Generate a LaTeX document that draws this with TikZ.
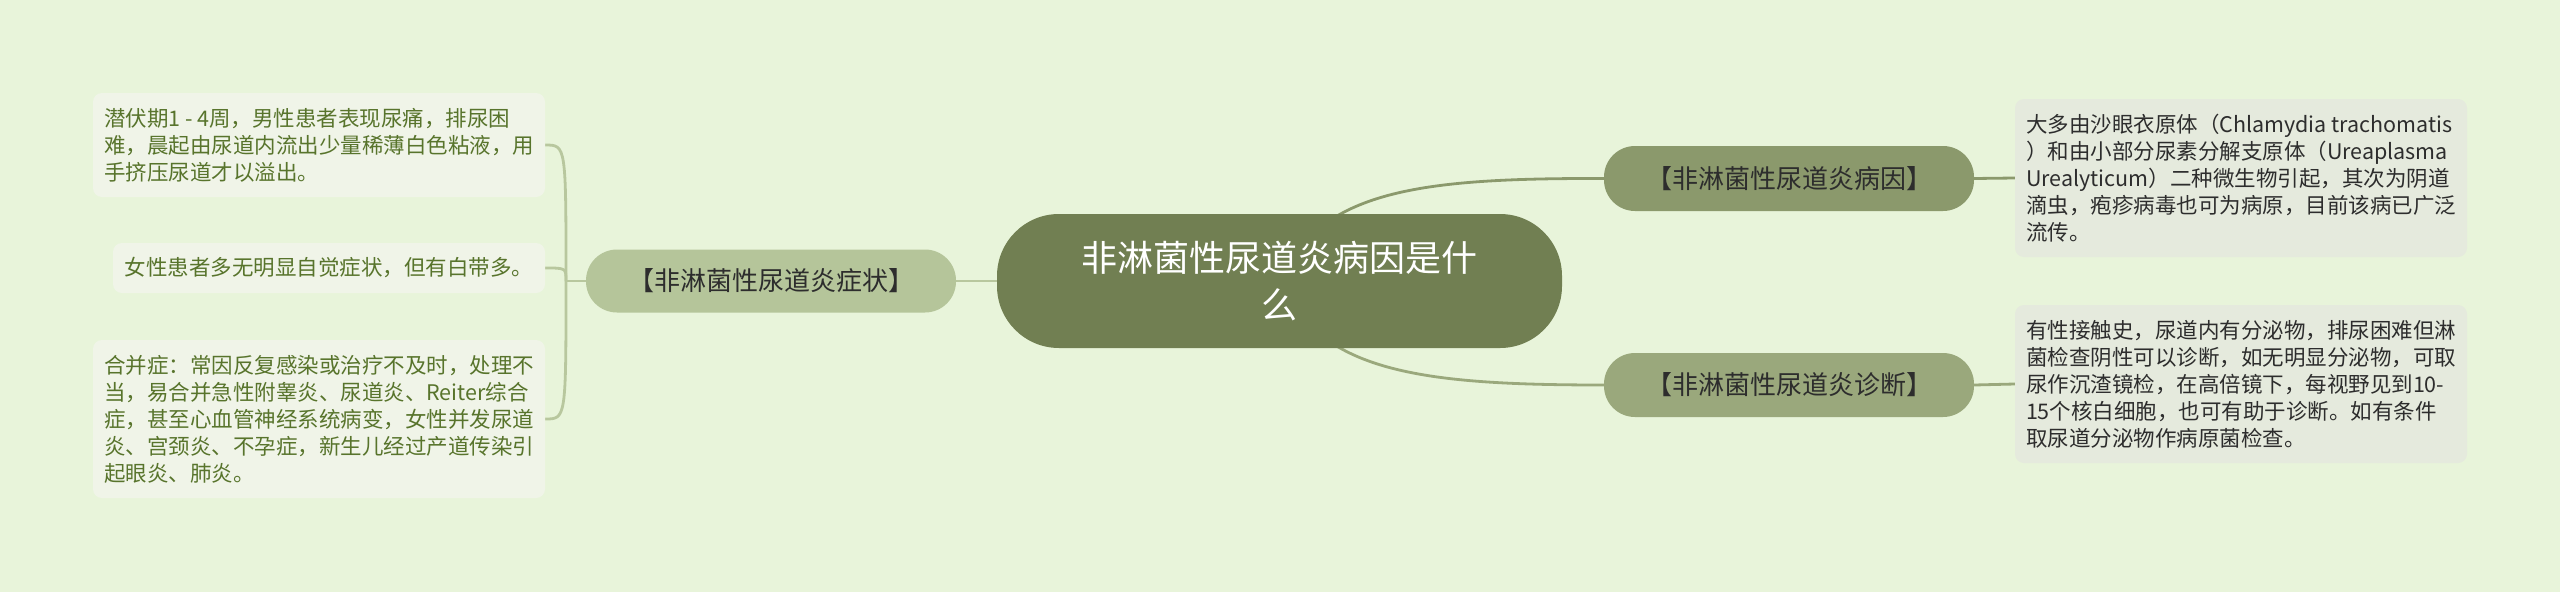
\documentclass[tikz,border=0pt]{standalone}
\usepackage{fontspec}
\setmainfont{Noto Sans CJK SC}
\usetikzlibrary{backgrounds}
\definecolor{bgc}{RGB}{232,244,218}
\definecolor{centc}{RGB}{113,127,82}
\definecolor{lbc}{RGB}{181,197,154}
\definecolor{lline}{RGB}{184,199,158}
\definecolor{rtc}{RGB}{139,153,108}
\definecolor{rbc}{RGB}{154,168,124}
\definecolor{lleaf}{RGB}{240,244,232}
\definecolor{rleaf}{RGB}{229,234,221}
\definecolor{ltext}{RGB}{88,116,44}
\definecolor{dtext}{RGB}{45,45,45}
\tikzset{
  centralnode/.style={fill=centc, rounded corners=62, minimum width=565, minimum height=134, text=white, font=\fontsize{36}{47}\selectfont, align=center, inner sep=0},
  branchnode/.style={rounded corners=31, minimum width=370, minimum height=63, text=dtext, font=\fontsize{26}{30}\selectfont, inner sep=0},
  lleafnode/.style={fill=lleaf, rounded corners=9, minimum width=452, text=ltext, font=\fontsize{21.5}{27}\selectfont, align=left, inner sep=0},
  rleafnode/.style={fill=rleaf, rounded corners=9, minimum width=452, minimum height=158, text=dtext, font=\fontsize{21.5}{27}\selectfont, align=left, inner sep=0},
  lconn/.style={draw=lline, line width=2.8},
  rtconn/.style={draw=rtc, line width=2.8},
  rbconn/.style={draw=rbc, line width=2.8}
}
\begin{document}
\begin{tikzpicture}[x=1pt,y=-1pt]
\useasboundingbox (0,0) rectangle (2560,592);
\node[centralnode] (c) at (1279.5,281) {非淋菌性尿道炎病因是什\\么};
\node[branchnode, fill=lbc] (lb) at (771,281) {【非淋菌性尿道炎症状】};
\node[branchnode, fill=rtc, minimum height=65] (rt) at (1789,178.5) {【非淋菌性尿道炎病因】};
\node[branchnode, fill=rbc, minimum height=64] (rb) at (1789,385) {【非淋菌性尿道炎诊断】};
\node[lleafnode, minimum height=104] (l1) at (319,145) {潜伏期1 - 4周，男性患者表现尿痛，排尿困\\难，晨起由尿道内流出少量稀薄白色粘液，用\\手挤压尿道才以溢出。};
\node[lleafnode, minimum width=432, minimum height=50] (l2) at (329,268) {女性患者多无明显自觉症状，但有白带多。};
\node[lleafnode, minimum height=158] (l3) at (319,419) {合并症：常因反复感染或治疗不及时，处理不\\当，易合并急性附睾炎、尿道炎、Reiter综合\\症，甚至心血管神经系统病变，女性并发尿道\\炎、宫颈炎、不孕症，新生儿经过产道传染引\\起眼炎、肺炎。};
\node[rleafnode] (r1) at (2241,178) {大多由沙眼衣原体（Chlamydia trachomatis\\）和由小部分尿素分解支原体（Ureaplasma\\Urealyticum）二种微生物引起，其次为阴道\\滴虫，疱疹病毒也可为病原，目前该病已广泛\\流传。};
\node[rleafnode] (r2) at (2241,384) {有性接触史，尿道内有分泌物，排尿困难但淋\\菌检查阴性可以诊断，如无明显分泌物，可取\\尿作沉渣镜检，在高倍镜下，每视野见到10-\\15个核白细胞，也可有助于诊断。如有条件\\取尿道分泌物作病原菌检查。};
\coordinate (hub) at (566,281);
\begin{pgfonlayer}{background}
\fill[bgc] (0,0) rectangle (2560,592);
\draw[lconn] (c.west) -- (lb.east);
\draw[rtconn] (c.center) .. controls (1320,190) and (1420,178) .. (rt.west);
\draw[rbconn] (c.center) .. controls (1320,372) and (1420,385) .. (rb.west);
\draw[rtconn] (rt.east) -- (r1.west);
\draw[rbconn] (rb.east) -- (r2.west);
\draw[lconn] (lb.west) -- (hub);
\draw[lconn] (hub) .. controls (hub |- l1.east) and (hub |- l1.east) .. (l1.east);
\draw[lconn] (hub) .. controls (hub |- l2.east) and (hub |- l2.east) .. (l2.east);
\draw[lconn] (hub) .. controls (hub |- l3.east) and (hub |- l3.east) .. (l3.east);
\end{pgfonlayer}
\end{tikzpicture}
\end{document}
